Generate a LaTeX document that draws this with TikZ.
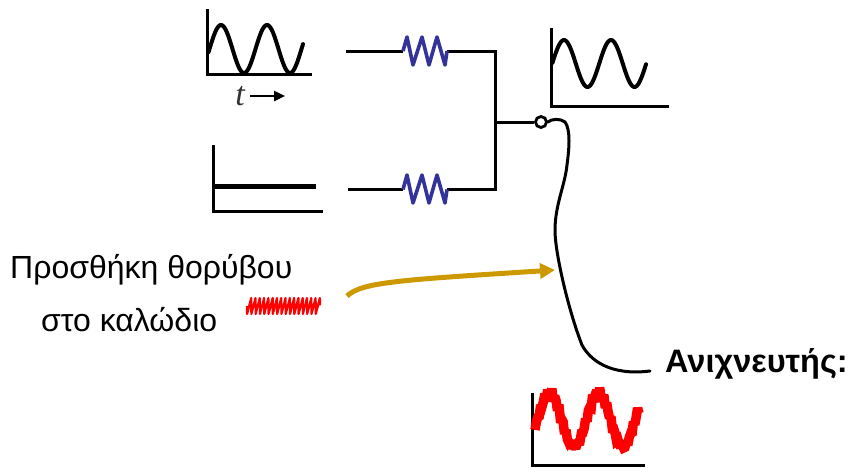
\documentclass[tikz,border=0pt]{standalone}
\usepackage{fontspec}
\setmainfont{Liberation Sans}
\newfontfamily\timesit{Liberation Serif}
\usetikzlibrary{arrows.meta}
\definecolor{resblue}{HTML}{333399}
\definecolor{gold}{HTML}{CC9900}
\definecolor{noisered}{HTML}{FF0000}
\tikzset{
  axis/.style={line width=3pt,line cap=rect,line join=miter},
  wave/.style={line width=4pt,line join=round,line cap=round},
  wire/.style={line width=3pt,line join=miter},
  res/.style={draw=resblue,line width=3.6pt,line join=round},
  label/.style={anchor=base west,inner sep=0pt,font=\fontsize{32}{36}\selectfont},
}
\begin{document}
\begin{tikzpicture}[x=1pt,y=-1pt]
\useasboundingbox[fill=white] (0,0) rectangle (849,467);
% top input graph
\draw[axis] (207,10) -- (207,74) -- (310,74);
\draw[wave,domain=208.5:303,samples=100,smooth] plot (\x,{49-24*cos((\x-221)/46*360)});
\node[inner sep=0pt,anchor=base,text=black!80,font=\fontsize{34}{36}\selectfont\timesit\itshape] (tlabel) at (240,105) {t};
\coordinate (tarrowA) at (250,96);
\coordinate (tarrowB) at (285,96);
\draw[line width=2.4pt,-{Triangle[length=11pt,width=10pt]}] (tarrowA) -- (tarrowB);
% second input graph
\draw[axis] (213,146) -- (213,211) -- (321,211);
\draw[line width=5.5pt] (213,186.5) -- (316,186.5);
% output graph
\draw[axis] (551,29) -- (551,106.5) -- (667,106.5);
\draw[wave,domain=552.5:646,samples=100,smooth] plot (\x,{63.5-23.5*cos((\x-564)/47*360)});
% circuit
\coordinate (w1a) at (346,51);
\coordinate (r1a) at (403,51);
\coordinate (r1b) at (447,51);
\coordinate (w2a) at (348,189.5);
\coordinate (r2a) at (403,189.5);
\coordinate (r2b) at (447,189.5);
\coordinate (bus1) at (495,51);
\coordinate (bus2) at (495,189.5);
\coordinate (busm) at (495,122);
\node[circle,draw,line width=2.8pt,fill=white,minimum size=11pt,inner sep=0pt] (junc) at (541,122) {};
\coordinate (detect) at (650,371);
\draw[wire] (w1a) -- (r1a);
\draw[wire] (r1b) -- (bus1) -- (bus2) -- (r2b);
\draw[wire] (w2a) -- (r2a);
\draw[wire] (busm) -- (junc);
\draw[res] (r1a) -- (407,37) -- (413,65) -- (422,37) -- (429,65) -- (437,37) -- (445,65) -- (r1b);
\draw[res] (r2a) -- (407,175) -- (413,203) -- (422,175) -- (429,203) -- (437,175) -- (445,203) -- (r2b);
% cable
\draw[line width=3pt,line cap=round,line join=round] (junc.east) .. controls (551,119) and (560,118) .. (565,122)
  .. controls (571,130) and (569,150) .. (567,165)
  .. controls (565,185) and (555,205) .. (555,230)
  .. controls (555,255) and (570,315) .. (582,345)
  .. controls (590,360) and (610,376) .. (detect);
% noise injection
\coordinate (gA) at (347,296);
\coordinate (gB) at (555,270);
\draw[gold,line width=5pt,-{Triangle[length=15pt,width=15pt]}] (gA) .. controls (362,282) and (400,280) .. (gB);
\draw[noisered,line width=2.2pt,line join=round,domain=0:1,samples=69] plot ({247+73*\x-1*sin(360*17*\x)},{306+8*sin(360*17*\x)});
% received signal
\draw[axis] (532,394) -- (532,465) -- (643,465);
\draw[wave,domain=538:636,samples=80,smooth] plot (\x,{420-22*cos((\x-549.5)/49*360)});
\draw[noisered,line width=9.5pt,line join=miter,miter limit=2,domain=535:639,samples=75] plot (\x,{420-27*cos((\x-549.5)/49*360)+4*sin((\x-534)*97)+2*cos((\x-534)*151)});
% labels
\node[label] (lnoise1) at (10,278) {Προσθήκη θορύβου};
\node[label] (lnoise2) at (41,331) {στο καλώδιο};
\node[label,font=\fontsize{32.5}{36}\selectfont\bfseries] (ldet) at (665,372) {Ανιχνευτής:};
\end{tikzpicture}
\end{document}
